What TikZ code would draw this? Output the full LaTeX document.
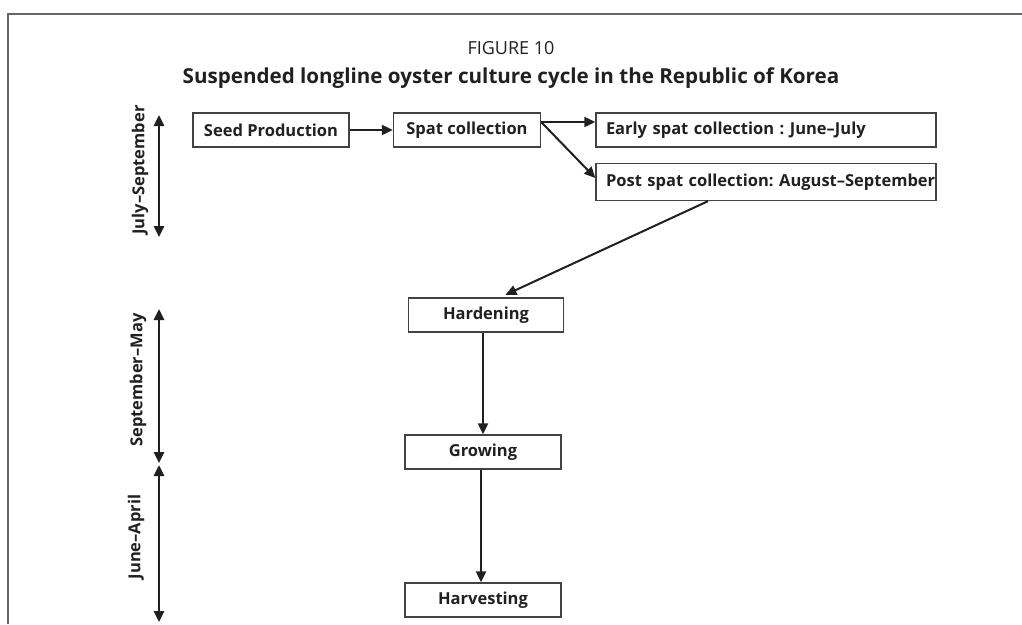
\documentclass[tikz,border=0pt]{standalone}
\usepackage{fontspec}
\setmainfont{Open Sans}
\frenchspacing
\usetikzlibrary{arrows.meta}
\definecolor{ink}{HTML}{231F20}
\definecolor{framegray}{HTML}{666666}
\tikzset{
  box/.style={draw=ink!85, line width=1.3pt, rectangle, minimum height=34pt, inner sep=0pt,
    font=\fontsize{16.5}{19}\selectfont\bfseries, text=ink},
  flow/.style={draw=ink, line width=2pt, -{Triangle[length=11pt,width=10pt]}},
  period/.style={draw=ink, line width=2.6pt, {Triangle[length=11pt,width=10pt]}-{Triangle[length=11pt,width=10pt]}},
  periodlabel/.style={rotate=90, font=\fontsize{16.5}{19}\selectfont\bfseries, text=ink}
}
\begin{document}
\begin{tikzpicture}[x=1pt,y=-1pt]
\useasboundingbox (0,0) rectangle (1022,624);
\draw[framegray, line width=2pt] (1022,14) -- (8,14) -- (8,624);

\node[font=\fontsize{18}{21}\selectfont, text=ink] (fig) at (511,48) {FIGURE 10};
\node[font=\fontsize{20.6}{24}\selectfont\bfseries, text=ink] (title) at (511,78) {Suspended longline oyster culture cycle in the Republic of Korea};

\node[box, minimum width=156pt] (seed) at (271,130) {Seed Production};
\node[box, minimum width=147pt] (spat) at (467,130) {Spat collection};
\node[box, minimum width=340pt, text width=320pt, align=left] (early) at (766,130) {Early spat collection : June--July};
\node[box, minimum width=340pt, minimum height=37pt, text width=320pt, align=left] (post) at (766,182) {\mbox{Post spat collection: August--September}};
\node[box, minimum width=155pt] (hard) at (486,315) {Hardening};
\node[box, minimum width=156pt] (grow) at (483,452) {Growing};
\node[box, minimum width=156pt] (harv) at (483,600) {Harvesting};

\draw[flow] (seed.east) -- (spat.west);
\draw[flow] ([yshift=8pt]spat.east) -- ([yshift=8pt]early.west);
\draw[flow] ([yshift=8pt]spat.east) -- ([yshift=4pt]post.west);
\draw[flow, shorten >=6pt] ([xshift=-58pt]post.south) -- ([xshift=14pt]hard.north);
\draw[flow] ([xshift=-3pt]hard.south) -- (grow.north);
\draw[flow] ([xshift=-2pt]grow.south) -- ([xshift=-2pt]harv.north);

\coordinate (p1a) at (159,115);
\coordinate (p1b) at (159,237);
\coordinate (p2a) at (159,309);
\coordinate (p2b) at (159,463);
\coordinate (p3a) at (159,465);
\coordinate (p3b) at (159,622);
\draw[period] (p1a) -- (p1b);
\draw[period] (p2a) -- (p2b);
\draw[period] (p3a) -- (p3b);
\node[periodlabel] (l1) at (140,170) {July--September};
\node[periodlabel] (l2) at (138,380) {September--May};
\node[periodlabel] (l3) at (136,537) {June--April};
\end{tikzpicture}
\end{document}
